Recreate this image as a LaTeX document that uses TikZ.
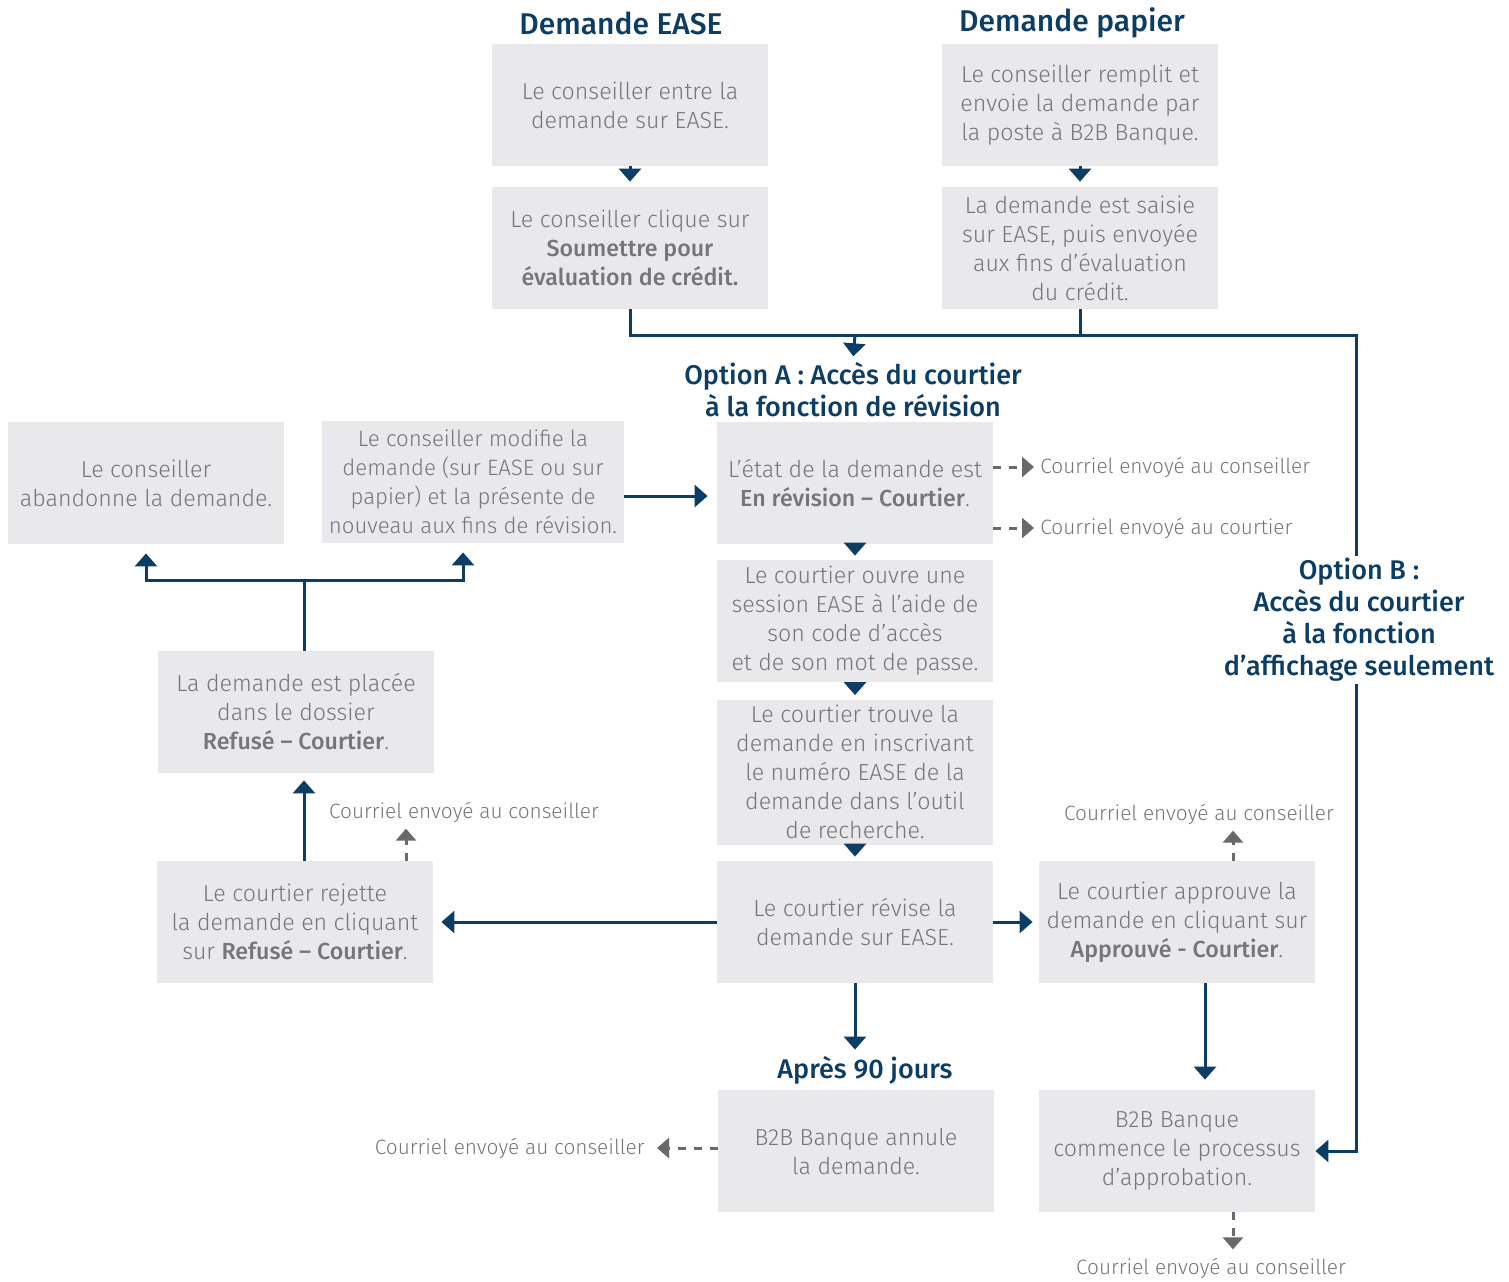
\documentclass[tikz,border=0pt]{standalone}
\usepackage{fontspec}
\setmainfont{Fira Sans}[UprightFont={* Light}, BoldFont={* Medium}]
\usepackage{tikz}
\usetikzlibrary{arrows.meta,calc,positioning}

\definecolor{bleu}{RGB}{12,61,101}
\definecolor{boxgris}{RGB}{233,233,235}
\definecolor{txtgris}{RGB}{118,118,120}
\definecolor{grisfl}{RGB}{105,105,108}

\tikzset{
  etape/.style={fill=boxgris, minimum width=138pt, minimum height=61pt, inner sep=0pt,
    align=center, text=txtgris, font=\fontsize{11.6}{14.5}\selectfont},
  titre/.style={text=bleu, align=center, inner sep=1pt, font=\bfseries\fontsize{13.5}{16}\selectfont},
  grandtitre/.style={titre, font=\bfseries\fontsize{15}{16}\selectfont},
  note/.style={text=txtgris, inner sep=0pt, font=\fontsize{10.4}{12}\selectfont},
  lien/.style={draw=bleu, line width=1.5pt, -{Triangle[width=11pt,length=6.5pt]}},
  ligne/.style={draw=bleu, line width=1.5pt},
  courriel/.style={draw=grisfl, line width=1.5pt, dash pattern=on 4pt off 4pt,
    -{Triangle[width=10pt,length=6pt]}}
}

\begin{document}
\begin{tikzpicture}[x=0.5pt,y=-0.5pt]
  \useasboundingbox (0,0) rectangle (1509,1281);

  % demande EASE
  \node[grandtitre] (tE) at (621,23) {Demande EASE};
  \node[etape] (e1) at (630,105) {Le conseiller entre la\\demande sur EASE.};
  \node[etape] (e2) at (630,248) {Le conseiller clique sur\\\textbf{Soumettre pour}\\\textbf{évaluation de crédit.}};

  % demande papier
  \node[grandtitre] (tP) at (1072,23) {Demande papier};
  \node[etape] (p1) at (1080,105) {Le conseiller remplit et\\envoie la demande par\\la poste à B2B Banque.};
  \node[etape] (p2) at (1080,248) {La demande est saisie\\sur EASE, puis envoyée\\aux fins d’évaluation\\du crédit.};

  % option A
  \node[titre] (tA) at (853,390) {Option A : Accès du courtier\\à la fonction de révision};
  \node[etape] (rv) at (855,483) {L’état de la demande est\\\textbf{En révision – Courtier}.};
  \node[etape, minimum width=151pt, font=\fontsize{11.1}{14.5}\selectfont] (mod) at (473,482) {Le conseiller modifie la\\demande (sur EASE ou sur\\papier) et la présente de\\nouveau aux fins de révision.};
  \node[etape] (ab) at (146,483) {Le conseiller\\abandonne la demande.};
  \node[etape] (s1) at (855,621) {Le courtier ouvre une\\session EASE à l’aide de\\son code d’accès\\et de son mot de passe.};
  \node[etape, minimum height=72.5pt] (s2) at (855,772) {Le courtier trouve la\\demande en inscrivant\\le numéro EASE de la\\demande dans l’outil\\de recherche.};
  \node[etape] (rev) at (855,922) {Le courtier révise la\\demande sur EASE.};
  \node[etape] (rej) at (295,922) {Le courtier rejette\\la demande en cliquant\\sur \textbf{Refusé – Courtier}.};
  \node[etape] (ref) at (296,712) {La demande est placée\\dans le dossier\\\textbf{Refusé – Courtier}.};
  \node[etape] (app) at (1177,922) {Le courtier approuve la\\demande en cliquant sur\\\textbf{Approuvé - Courtier}.};
  \node[etape] (bq) at (1177,1151) {B2B Banque\\commence le processus\\d’approbation.};
  \node[titre] (t90) at (865,1070) {Après 90 jours};
  \node[etape] (ann) at (856,1151) {B2B Banque annule\\la demande.};

  % option B
  \node[titre] (tB) at (1359,620) {Option B :\\Accès du courtier\\à la fonction\\d’affichage seulement};

  % courriels
  \node[note, anchor=west] (c1) at (1040,467) {Courriel envoyé au conseiller};
  \node[note, anchor=west] (c2) at (1040,528) {Courriel envoyé au courtier};
  \node[note] (c3) at (464,812) {Courriel envoyé au conseiller};
  \node[note] (c4) at (1199,814) {Courriel envoyé au conseiller};
  \node[note] (c5) at (1211,1268) {Courriel envoyé au conseiller};
  \node[note, anchor=east] (c6) at (645,1148) {Courriel envoyé au conseiller};

  \coordinate (coin) at (1356,335);
  \coordinate (j1) at (855,335);
  \coordinate (fourche) at (304,580);

  % liens
  \draw[lien, shorten >=2.5pt] (e1) -- (e2);
  \draw[lien, shorten >=2.5pt] (p1) -- (p2);
  \draw[ligne] (e2.south) |- (coin) -- (coin |- tB.north);
  \draw[ligne] (p2.south) -- (p2.south |- coin);
  \draw[lien, shorten >=2pt] (j1) -- (tA.north);
  \draw[lien] (coin |- tB.south) |- (bq.east);
  \draw[lien, shorten >=4.5pt] ([yshift=-7pt]mod.east) -- ([yshift=-7pt]mod.east -| rv.west);
  \draw[lien, shorten >=2pt] (rv) -- (s1);
  \draw[lien, shorten >=2pt] (s1) -- (s2);
  \draw[lien, shorten >=2pt] (s2) -- (rev);
  \draw[lien, shorten >=4pt] (rev.west) -- (rej.east);
  \draw[lien, shorten >=3pt] (rev.east) -- (app.west);
  \draw[lien, shorten >=2pt] (rev.south) -- (rev.south |- t90.north);
  \draw[lien, shorten >=5pt] ([xshift=14pt]app.south) -- ([xshift=14pt]bq.north);
  \draw[lien, shorten >=3.5pt] ([xshift=4.5pt]rej.north) -- ([xshift=4.5pt]rej.north |- ref.south);
  \draw[ligne] ([xshift=4pt]ref.north) -- (fourche);
  \draw[lien, shorten >=4.5pt] (fourche) -| (ab.south);
  \draw[lien, shorten >=4.5pt] (fourche) -| ([xshift=-5pt]mod.south);

  \draw[courriel, shorten >=3pt] ([yshift=8pt]rv.east) -- (c1.west);
  \draw[courriel, shorten >=3pt] ([yshift=-22.5pt]rv.east) -- (c2.west);
  \draw[courriel, shorten >=3pt] ([xshift=55.5pt]rej.north) -- ([xshift=55.5pt]rej.north |- c3.south);
  \draw[courriel, shorten >=3pt] ([xshift=28pt]app.north) -- ([xshift=28pt]app.north |- c4.south);
  \draw[courriel, shorten >=4pt] ([xshift=28pt]bq.south) -- ([xshift=28pt]bq.south |- c5.north);
  \draw[courriel, shorten >=6pt] ([yshift=1.5pt]ann.west) -- (c6.east);
\end{tikzpicture}
\end{document}
